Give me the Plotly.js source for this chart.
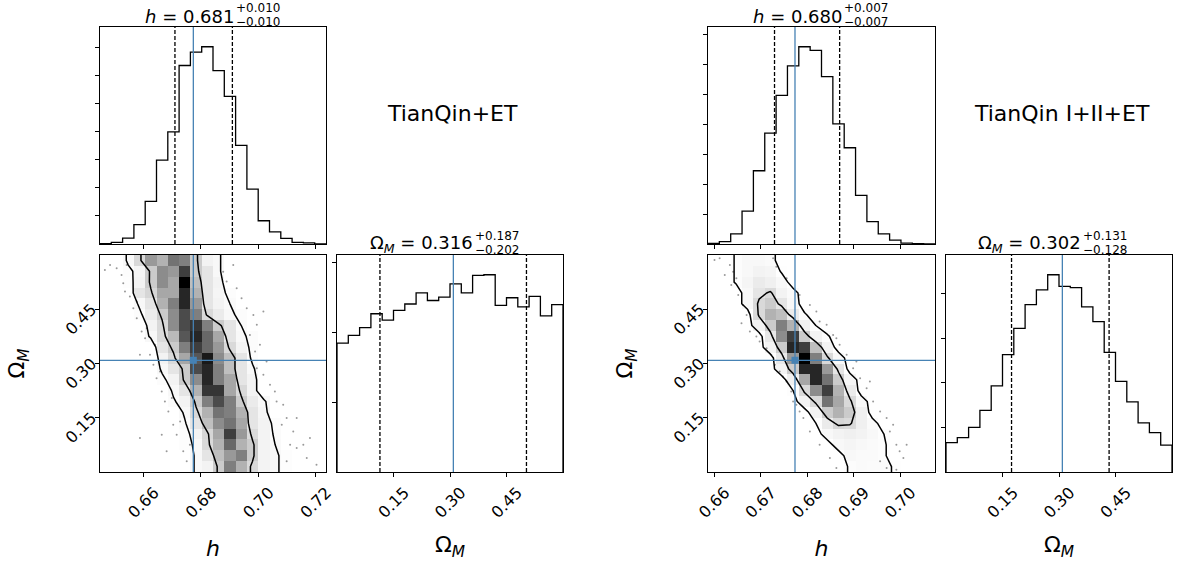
<!DOCTYPE html>
<html><head><meta charset="utf-8">
<script src="https://cdn.plot.ly/plotly-3.0.1.min.js"></script>
<style>html,body{margin:0;padding:0;background:#fff}#chart{width:1177px;height:561px}</style>
</head><body><div id="chart"></div>
<script>
// ---------------- data ----------------
const leftHRange = [0.6449, 0.7236];
const rightHRange = [0.6587, 0.7075];
const omegaRange = [0.0, 0.6];
const truthH = 0.6774;
const truthOmega = 0.3089;

const leftHCounts = [1,6,21,69,152,299,400,637,685,704,619,527,352,196,83,43,20,6,4,0];
const leftOmegaCounts = [185,196,207,227,218,232,241,257,246,251,270,257,282,283,239,250,237,252,224,240];
const rightHCounts = [2,8,34,110,245,371,497,596,660,648,560,402,322,163,75,34,13,3,1,0];
const rightOmegaCounts = [66,77,100,138,193,263,322,375,408,442,416,413,370,337,268,203,157,110,88,60];

const leftHQuant = [0.671, 0.691];
const leftOmegaQuant = [0.114, 0.503];
const rightHQuant = [0.673, 0.687];
const rightOmegaQuant = [0.174, 0.433];

const hTickVals = {left:[0.66,0.68,0.70,0.72], right:[0.66,0.67,0.68,0.69,0.70]};
const hTickText = {left:['0.66','0.68','0.70','0.72'], right:['0.66','0.67','0.68','0.69','0.70']};
const omegaTickVals = [0.15,0.30,0.45];
const omegaTickText = ['0.15','0.30','0.45'];
const histTickVals = [100,200,300,400,500,600,700];

const panelLabels = ['TianQin+ET','TianQin I+II+ET'];
const titleMain = {lh:'<i>h</i> = 0.681', lo:'Ω<sub><i>M</i></sub> = 0.316', rh:'<i>h</i> = 0.680', ro:'Ω<sub><i>M</i></sub> = 0.302'};
const titleSup = {lh:'+0.010', lo:'+0.187', rh:'+0.007', ro:'+0.131'};
const titleSub = {lh:'−0.010', lo:'−0.202', rh:'−0.007', ro:'−0.128'};

// 2D histogram (rows: Omega_M bins bottom->top, cols: h bins left->right), relative counts
const leftGrid = [
 [0,0,0,0,0,0,0,0,17,22,45,71,55,39,22,17,8,0,0,0],
 [0,0,0,0,0,0,0,0,17,32,50,63,71,45,22,17,8,0,0,0],
 [0,0,0,0,0,0,0,8,17,39,55,77,55,45,22,14,0,0,0,0],
 [0,0,0,0,0,0,0,8,22,40,59,87,63,38,22,12,0,0,0,0],
 [0,0,0,0,0,0,0,12,32,50,67,74,59,32,22,10,0,0,0,0],
 [0,0,0,0,0,0,0,17,39,55,74,71,55,32,20,0,0,0,0,0],
 [0,0,0,0,0,0,12,22,45,71,84,71,45,28,17,0,0,0,0,0],
 [0,0,0,0,0,0,17,32,55,89,89,59,39,22,0,0,0,0,0,0],
 [0,0,0,0,0,10,22,45,67,92,71,59,32,22,0,0,0,0,0,0],
 [0,0,0,0,0,17,32,45,84,92,71,50,32,17,0,0,0,0,0,0],
 [0,0,0,0,0,22,39,59,81,95,67,50,32,10,0,0,0,0,0,0],
 [0,0,0,0,0,32,45,71,87,77,63,39,22,10,0,0,0,0,0,0],
 [0,0,0,0,17,38,52,81,92,77,59,32,17,10,0,0,0,0,0,0],
 [0,0,0,0,22,39,67,84,89,71,45,32,14,0,0,0,0,0,0,0],
 [0,0,0,10,28,45,67,84,71,39,28,17,10,0,0,0,0,0,0,0],
 [0,0,0,17,32,55,71,92,63,32,22,14,0,0,0,0,0,0,0,0],
 [0,0,0,32,40,59,59,92,55,32,20,10,0,0,0,0,0,0,0,0],
 [0,0,8,22,45,67,59,100,50,32,22,0,0,0,0,0,0,0,0,0],
 [0,0,10,20,45,67,63,87,45,32,17,0,0,0,0,0,0,0,0,0],
 [0,0,17,39,63,55,74,71,45,22,17,0,0,0,0,0,0,0,0,0]
];
const rightGrid = [
 [0,0,0,0,0,0,0,0,0,0,0,0,10,14,12,12,6,0,0,0],
 [0,0,0,0,0,0,0,0,0,0,0,0,17,14,14,10,0,0,0,0],
 [0,0,0,0,0,0,0,0,0,0,0,17,20,17,14,10,0,0,0,0],
 [0,0,0,0,0,0,0,0,0,0,17,22,24,22,17,8,0,0,0,0],
 [0,0,0,0,0,0,0,0,0,8,28,40,38,24,14,0,0,0,0,0],
 [0,0,0,0,0,0,0,0,0,22,45,55,45,24,0,0,0,0,0,0],
 [0,0,0,0,0,0,0,0,22,39,74,59,39,17,0,0,0,0,0,0],
 [0,0,0,0,0,0,0,8,39,67,87,55,28,0,0,0,0,0,0,0],
 [0,0,0,0,0,0,0,24,59,92,74,45,20,0,0,0,0,0,0,0],
 [0,0,0,0,0,0,22,45,92,92,63,32,0,0,0,0,0,0,0,0],
 [0,0,0,0,0,0,30,63,100,71,39,17,0,0,0,0,0,0,0,0],
 [0,0,0,0,0,22,45,92,87,50,22,0,0,0,0,0,0,0,0,0],
 [0,0,0,0,0,30,67,87,45,22,10,0,0,0,0,0,0,0,0,0],
 [0,0,0,0,22,45,71,55,24,8,0,0,0,0,0,0,0,0,0,0],
 [0,0,0,0,39,55,50,28,10,0,0,0,0,0,0,0,0,0,0,0],
 [0,0,0,17,39,45,32,17,0,0,0,0,0,0,0,0,0,0,0,0],
 [0,0,0,17,32,38,22,14,0,0,0,0,0,0,0,0,0,0,0,0],
 [0,0,10,20,28,24,17,0,0,0,0,0,0,0,0,0,0,0,0,0],
 [0,0,10,17,22,20,6,0,0,0,0,0,0,0,0,0,0,0,0,0],
 [0,0,10,17,17,14,0,0,0,0,0,0,0,0,0,0,0,0,0,0]
];
const leftContourLevels = [14, 42];
const rightContourLevels = [8, 36];

// samples outside the contours (read approximately)
const leftPtsH = [0.6466,0.6484,0.6507,0.6524,0.6530,0.6536,0.6553,0.6565,0.6577,0.6594,0.6606,0.6588,0.6623,0.6635,0.6646,0.6664,0.6675,0.6687,0.6704,0.6716,0.6588,0.6664,0.6739,0.6751,0.6681,0.6542,0.6577,0.6612,0.6641,0.6658,0.6699,0.6728,0.6762,
  0.6878,0.6890,0.6925,0.6960,0.6983,0.7018,0.6995,0.6989,0.7006,0.6995,0.7018,0.7041,0.7064,0.7087,0.7099,0.7122,0.7111,0.7134,0.7157,0.7099,0.7169,0.6913,0.6942,0.6971,0.7029,0.7058,0.7082,0.7134,0.7180,0.7203];
const leftPtsOmega = [0.5586,0.5724,0.5632,0.5448,0.5218,0.4988,0.4850,0.4528,0.4252,0.3883,0.3699,0.3239,0.3239,0.2963,0.2595,0.2227,0.1951,0.1675,0.1307,0.1031,0.0939,0.1031,0.0571,0.0295,0.0571,0.5724,0.4712,0.3975,0.3515,0.2779,0.2043,0.1399,0.0755,
  0.5540,0.5264,0.5080,0.4528,0.4344,0.4436,0.4068,0.3331,0.3515,0.2871,0.2687,0.2411,0.1951,0.1859,0.1491,0.1123,0.0755,0.0663,0.0755,0.0295,0.0387,0.5724,0.4804,0.3791,0.3055,0.2227,0.1307,0.1491,0.0939,0.0203];
const rightPtsH = [0.6601,0.6612,0.6634,0.6641,0.6648,0.6637,0.6662,0.6670,0.6659,0.6677,0.6691,0.6713,0.6723,0.6731,0.6741,0.6756,0.6766,0.6770,0.6784,0.6792,0.6806,0.6827,0.6849,0.6863,0.6623,0.6652,0.6698,0.6748,0.6777,
  0.6727,0.6734,0.6756,0.6784,0.6806,0.6820,0.6842,0.6856,0.6870,0.6885,0.6899,0.6914,0.6928,0.6942,0.6957,0.6971,0.6978,0.6992,0.6999,0.7007,0.6957,0.6971,0.6992,0.6827,0.6863,0.6906,0.6935,0.6985,0.7014];
const rightPtsOmega = [0.5862,0.5908,0.5724,0.5540,0.5356,0.5172,0.4620,0.4344,0.4114,0.3883,0.3745,0.3423,0.3239,0.2963,0.2779,0.2503,0.2227,0.1951,0.1675,0.1491,0.1123,0.0755,0.0387,0.0111,0.5448,0.4896,0.3607,0.2641,0.1859,
  0.5908,0.5678,0.5356,0.4896,0.4620,0.4436,0.4068,0.3791,0.3515,0.3239,0.2871,0.2595,0.2319,0.1951,0.1675,0.1491,0.1123,0.0755,0.0571,0.0387,0.0295,0.0111,0.0065,0.4160,0.3699,0.3055,0.2503,0.1307,0.0755];

// ---------------- helpers ----------------
const FONT = 'DejaVu Sans, Liberation Sans, sans-serif';
const W = 1177, H = 561;
const BLUE = '#4682b4';
const px = v => v / W;
const py = v => 1 - v / H;

function edges(r, n) { const e = []; for (let i = 0; i <= n; i++) e.push(r[0] + (r[1] - r[0]) * i / n); return e; }
function centers(e) { const c = []; for (let i = 0; i < e.length - 1; i++) c.push((e[i] + e[i + 1]) / 2); return c; }

function stepTrace(counts, range, xa, ya) {
  const e = edges(range, counts.length);
  const x = [e[0]], y = [0];
  for (let i = 0; i < counts.length; i++) { x.push(e[i]); y.push(counts[i]); }
  x.push(e[e.length - 1]); y.push(counts[counts.length - 1]);
  x.push(e[e.length - 1]); y.push(0);
  return {type: 'scatter', mode: 'lines', x, y, xaxis: xa, yaxis: ya, line: {shape: 'hv', color: 'black', width: 1.3}, hoverinfo: 'skip', showlegend: false};
}

function padded(z, xr, yr) {
  const ny = z.length, nx = z[0].length;
  const H2 = []; for (let j = 0; j < ny + 4; j++) H2.push(new Array(nx + 4).fill(0));
  for (let j = 0; j < ny; j++) for (let i = 0; i < nx; i++) H2[j + 2][i + 2] = z[j][i];
  for (let j = 0; j < ny; j++) { H2[j + 2][1] = z[j][0]; H2[j + 2][nx + 2] = z[j][nx - 1]; }
  for (let i = 0; i < nx; i++) { H2[1][i + 2] = z[0][i]; H2[ny + 2][i + 2] = z[ny - 1][i]; }
  H2[1][1] = z[0][0]; H2[1][nx + 2] = z[0][nx - 1]; H2[ny + 2][1] = z[ny - 1][0]; H2[ny + 2][nx + 2] = z[ny - 1][nx - 1];
  const cx = centers(edges(xr, nx)), cy = centers(edges(yr, ny));
  const dx = cx[1] - cx[0], dy = cy[1] - cy[0];
  const X2 = [cx[0] - 2 * dx, cx[0] - dx, ...cx, cx[nx - 1] + dx, cx[nx - 1] + 2 * dx];
  const Y2 = [cy[0] - 2 * dy, cy[0] - dy, ...cy, cy[ny - 1] + dy, cy[ny - 1] + 2 * dy];
  return {x: X2, y: Y2, z: H2};
}

function densityTraces(z, levels, ptsX, ptsY, xr, yr, xa, ya) {
  const cx = centers(edges(xr, z[0].length)), cy = centers(edges(yr, z.length));
  let mx = 0; z.forEach(r => r.forEach(v => { if (v > mx) mx = v; }));
  const pts = {type: 'scatter', mode: 'markers', x: ptsX, y: ptsY, xaxis: xa, yaxis: ya,
    marker: {size: 2, color: 'rgba(0,0,0,0.4)', line: {width: 0}}, hoverinfo: 'skip', showlegend: false};
  const heat = {type: 'heatmap', x: cx, y: cy, z: z, xaxis: xa, yaxis: ya, zmin: 0, zmax: mx, showscale: false, hoverinfo: 'skip',
    colorscale: [[0, 'rgba(255,255,255,0)'], [1, 'rgba(0,0,0,1)']]};
  const p = padded(z, xr, yr);
  const cont = {type: 'contour', x: p.x, y: p.y, z: p.z, xaxis: xa, yaxis: ya, autocontour: false, showscale: false, hoverinfo: 'skip',
    contours: {coloring: 'none', start: levels[0], end: levels[1], size: levels[1] - levels[0], showlines: true},
    line: {color: 'black', width: 1.5, smoothing: 0}};
  const mark = {type: 'scatter', mode: 'markers', x: [truthH], y: [truthOmega], xaxis: xa, yaxis: ya,
    marker: {symbol: 'square', size: 7, color: BLUE}, hoverinfo: 'skip', showlegend: false};
  return [pts, heat, cont, mark];
}

function baseAxis(domain, range, extra) {
  return Object.assign({domain, range, showline: true, mirror: true, linecolor: 'black', linewidth: 1,
    ticks: 'outside', ticklen: 4, tickwidth: 1, tickcolor: 'black', showgrid: false, zeroline: false,
    fixedrange: true, tickfont: {family: FONT, size: 16, color: 'black'}}, extra);
}

// ---------------- panels ----------------
const colL1 = [px(100), px(326)], colL2 = [px(337), px(563)];
const colR1 = [px(708), px(935)], colR2 = [px(946), px(1172)];
const row1 = [py(244), py(27)], row2 = [py(472), py(255)];

const maxOf = a => Math.max(...a);
const axTitleFont = {family: FONT, size: 22, color: 'black'};
const xLab = (vals, txt, title) => ({tickvals: vals, ticktext: txt, tickangle: -45, ticklabelshift: 11,
  title: {text: title, font: axTitleFont, standoff: 20}});
const yLab = () => ({tickvals: omegaTickVals, ticktext: omegaTickText, tickangle: -45, ticklabelshift: -2,
  title: {text: 'Ω<sub><i>M</i></sub>', font: axTitleFont, standoff: 30}});

const layout = {
  width: W, height: H, margin: {l: 0, r: 0, t: 0, b: 0}, paper_bgcolor: 'white', plot_bgcolor: 'white', showlegend: false,
  font: {family: FONT, color: 'black'},
  xaxis: baseAxis(colL1, leftHRange, {anchor: 'y', tickvals: hTickVals.left, showticklabels: false}),
  yaxis: baseAxis(row1, [0, 1.1 * maxOf(leftHCounts)], {anchor: 'x', tickvals: histTickVals, showticklabels: false}),
  xaxis2: baseAxis(colL1, leftHRange, Object.assign({anchor: 'y2'}, xLab(hTickVals.left, hTickText.left, '<i>h</i>'))),
  yaxis2: baseAxis(row2, omegaRange, Object.assign({anchor: 'x2'}, yLab())),
  xaxis3: baseAxis(colL2, omegaRange, Object.assign({anchor: 'y3'}, xLab(omegaTickVals, omegaTickText, 'Ω<sub><i>M</i></sub>'))),
  yaxis3: baseAxis(row2, [0, 1.1 * maxOf(leftOmegaCounts)], {anchor: 'x3', tickvals: histTickVals, showticklabels: false}),
  xaxis4: baseAxis(colR1, rightHRange, {anchor: 'y4', tickvals: hTickVals.right, showticklabels: false}),
  yaxis4: baseAxis(row1, [0, 1.1 * maxOf(rightHCounts)], {anchor: 'x4', tickvals: histTickVals, showticklabels: false}),
  xaxis5: baseAxis(colR1, rightHRange, Object.assign({anchor: 'y5'}, xLab(hTickVals.right, hTickText.right, '<i>h</i>'))),
  yaxis5: baseAxis(row2, omegaRange, Object.assign({anchor: 'x5'}, yLab())),
  xaxis6: baseAxis(colR2, omegaRange, Object.assign({anchor: 'y6'}, xLab(omegaTickVals, omegaTickText, 'Ω<sub><i>M</i></sub>'))),
  yaxis6: baseAxis(row2, [0, 1.1 * maxOf(rightOmegaCounts)], {anchor: 'x6', tickvals: histTickVals, showticklabels: false}),
  shapes: [], annotations: []
};

function vline(xa, x, color, dash) {
  layout.shapes.push({type: 'line', xref: xa, yref: xa.replace('x', 'y') + ' domain', x0: x, x1: x, y0: 0, y1: 1,
    line: {color, width: 1.3, dash: dash || 'solid'}, layer: 'above'});
}
function hline(ya, y, color) {
  layout.shapes.push({type: 'line', yref: ya, xref: ya.replace('y', 'x') + ' domain', y0: y, y1: y, x0: 0, x1: 1,
    line: {color, width: 1.3}, layer: 'above'});
}
leftHQuant.forEach(q => vline('x', q, 'black', '4px,2px'));
leftOmegaQuant.forEach(q => vline('x3', q, 'black', '4px,2px'));
rightHQuant.forEach(q => vline('x4', q, 'black', '4px,2px'));
rightOmegaQuant.forEach(q => vline('x6', q, 'black', '4px,2px'));
vline('x', truthH, BLUE); vline('x2', truthH, BLUE); hline('y2', truthOmega, BLUE); vline('x3', truthOmega, BLUE);
vline('x4', truthH, BLUE); vline('x5', truthH, BLUE); hline('y5', truthOmega, BLUE); vline('x6', truthOmega, BLUE);

// titles: main text ends where the stacked +/- errors start
function title(key, xsplit, ytop) {
  layout.annotations.push({xref: 'paper', yref: 'paper', x: px(xsplit), y: py(ytop + 11), xanchor: 'right', yanchor: 'middle',
    text: titleMain[key], showarrow: false, borderpad: 0, font: {family: FONT, size: 18, color: 'black'}});
  layout.annotations.push({xref: 'paper', yref: 'paper', x: px(xsplit), y: py(ytop + 3), xanchor: 'left', yanchor: 'middle',
    text: titleSup[key], showarrow: false, borderpad: 0, font: {family: FONT, size: 12, color: 'black'}});
  layout.annotations.push({xref: 'paper', yref: 'paper', x: px(xsplit), y: py(ytop + 17), xanchor: 'left', yanchor: 'middle',
    text: titleSub[key], showarrow: false, borderpad: 0, font: {family: FONT, size: 12, color: 'black'}});
}
title('lh', 235, 5); title('lo', 474, 233); title('rh', 843, 5); title('ro', 1082, 233);
layout.annotations.push({xref: 'paper', yref: 'paper', x: px(452), y: py(113), text: panelLabels[0], showarrow: false,
  xanchor: 'center', yanchor: 'middle', font: {family: FONT, size: 22, color: 'black'}});
layout.annotations.push({xref: 'paper', yref: 'paper', x: px(1062), y: py(113), text: panelLabels[1], showarrow: false,
  xanchor: 'center', yanchor: 'middle', font: {family: FONT, size: 22, color: 'black'}});

const data = [
  stepTrace(leftHCounts, leftHRange, 'x', 'y'),
  ...densityTraces(leftGrid, leftContourLevels, leftPtsH, leftPtsOmega, leftHRange, omegaRange, 'x2', 'y2'),
  stepTrace(leftOmegaCounts, omegaRange, 'x3', 'y3'),
  stepTrace(rightHCounts, rightHRange, 'x4', 'y4'),
  ...densityTraces(rightGrid, rightContourLevels, rightPtsH, rightPtsOmega, rightHRange, omegaRange, 'x5', 'y5'),
  stepTrace(rightOmegaCounts, omegaRange, 'x6', 'y6')
];

Plotly.newPlot('chart', data, layout, {staticPlot: true, displayModeBar: false});
</script></body></html>
